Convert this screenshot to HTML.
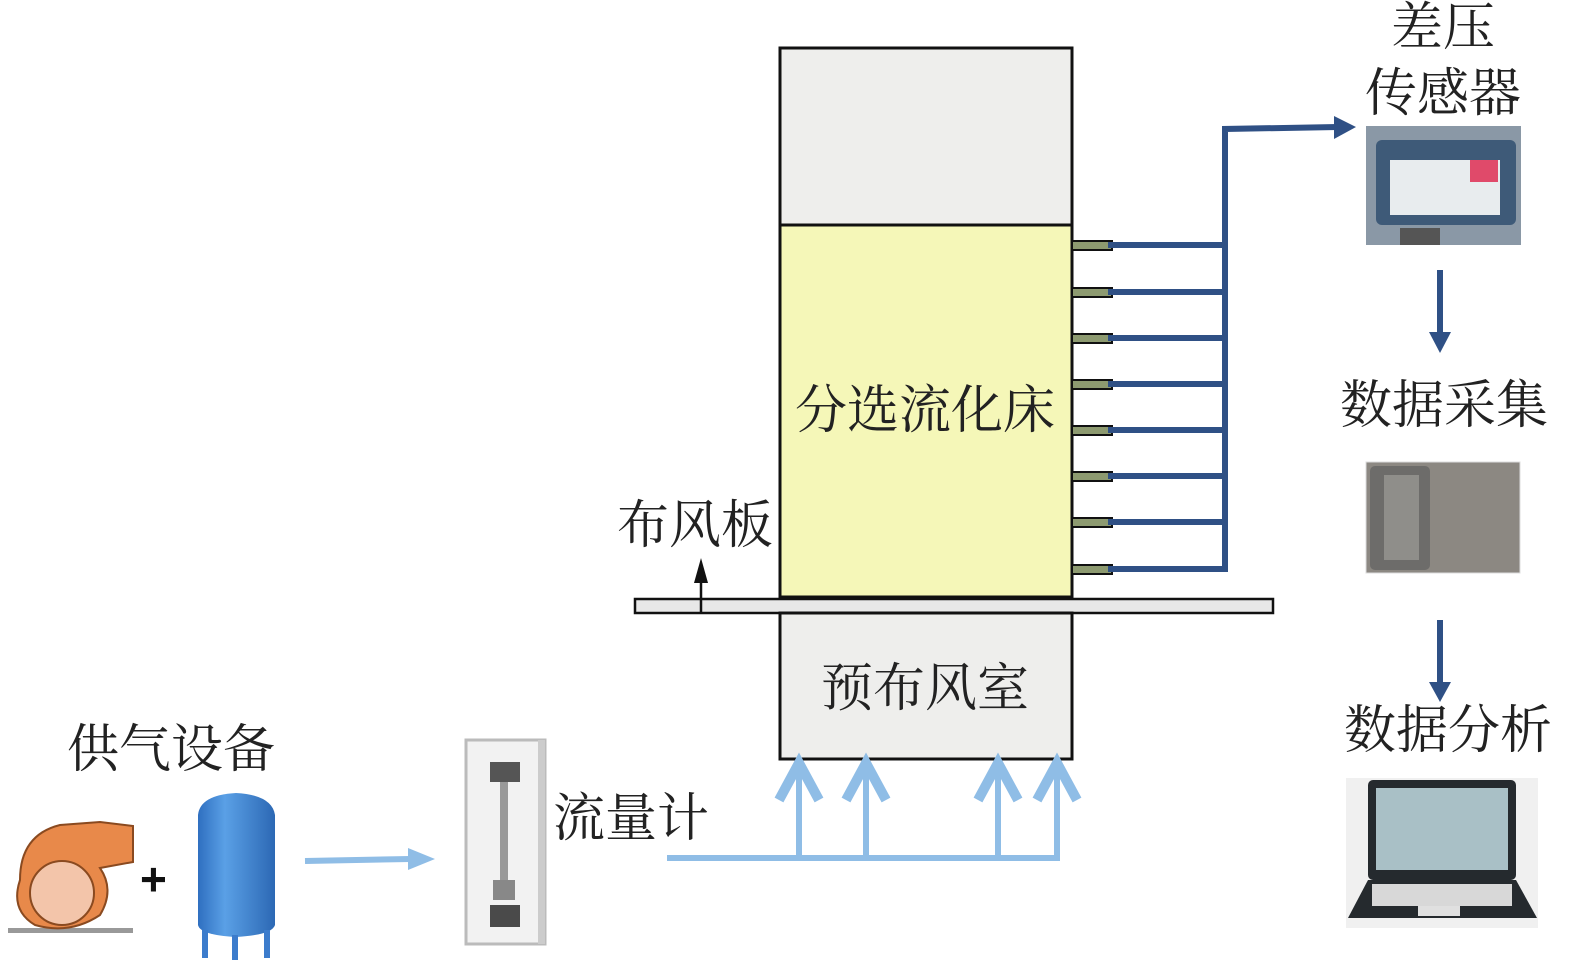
<!DOCTYPE html>
<html><head><meta charset="utf-8"><style>
html,body{margin:0;padding:0;background:#fff;}
svg{display:block;}
text{font-family:"Liberation Serif","Noto Serif CJK SC",serif;font-size:52px;fill:#222;}
</style></head><body>
<svg width="1575" height="964" viewBox="0 0 1575 964" xmlns="http://www.w3.org/2000/svg">
<defs>
<linearGradient id="tank" x1="0" x2="1"><stop offset="0" stop-color="#2f6fc0"/><stop offset="0.35" stop-color="#5aa0e6"/><stop offset="1" stop-color="#2c68b4"/></linearGradient>
</defs>
<!-- column -->
<rect x="780" y="48" width="292" height="177" fill="#eeeeec" stroke="#111" stroke-width="3"/>
<rect x="780" y="225" width="292" height="372" fill="#f5f7b8" stroke="#111" stroke-width="3"/>
<rect x="635" y="599" width="638" height="14" fill="#e8e8e8" stroke="#111" stroke-width="2.5"/>
<rect x="780" y="613" width="292" height="146" fill="#eeeeec" stroke="#111" stroke-width="3"/>
<!-- taps -->
<g>
<rect x="1072" y="241" width="40" height="9" fill="#8d9a70" stroke="#111" stroke-width="2"/>
<rect x="1072" y="288" width="40" height="9" fill="#8d9a70" stroke="#111" stroke-width="2"/>
<rect x="1072" y="334" width="40" height="9" fill="#8d9a70" stroke="#111" stroke-width="2"/>
<rect x="1072" y="380" width="40" height="9" fill="#8d9a70" stroke="#111" stroke-width="2"/>
<rect x="1072" y="426" width="40" height="9" fill="#8d9a70" stroke="#111" stroke-width="2"/>
<rect x="1072" y="472" width="40" height="9" fill="#8d9a70" stroke="#111" stroke-width="2"/>
<rect x="1072" y="518" width="40" height="9" fill="#8d9a70" stroke="#111" stroke-width="2"/>
<rect x="1072" y="565" width="40" height="9" fill="#8d9a70" stroke="#111" stroke-width="2"/>
</g>
<g stroke="#2f5085" stroke-width="6" fill="none">
<line x1="1108" y1="245" x2="1225" y2="245"/>
<line x1="1108" y1="292" x2="1225" y2="292"/>
<line x1="1108" y1="338" x2="1225" y2="338"/>
<line x1="1108" y1="384" x2="1225" y2="384"/>
<line x1="1108" y1="430" x2="1225" y2="430"/>
<line x1="1108" y1="476" x2="1225" y2="476"/>
<line x1="1108" y1="522" x2="1225" y2="522"/>
<line x1="1108" y1="569" x2="1225" y2="569"/>
<polyline points="1225,572 1225,129 1338,127"/>
<line x1="1440" y1="270" x2="1440" y2="335"/>
<line x1="1440" y1="620" x2="1440" y2="684"/>
</g>
<polygon points="1334,116 1356,127 1334,139" fill="#2f5085"/>
<polygon points="1429,332 1451,332 1440,353" fill="#2f5085"/>
<polygon points="1429,682 1451,682 1440,702" fill="#2f5085"/>
<!-- sensor photo -->
<rect x="1366" y="126" width="155" height="119" fill="#8a98a6"/>
<rect x="1376" y="140" width="140" height="85" rx="6" fill="#3e5a78"/>
<rect x="1390" y="160" width="110" height="55" fill="#e8ecee"/>
<rect x="1470" y="160" width="28" height="22" fill="#e04a6a"/>
<rect x="1400" y="228" width="40" height="17" fill="#555"/>
<!-- DAQ photo -->
<rect x="1366" y="462" width="154" height="111" fill="#8c8882" stroke="#ddd"/>
<rect x="1370" y="466" width="60" height="104" rx="5" fill="#6d6c6a"/>
<rect x="1384" y="475" width="35" height="85" fill="#8f8e8a"/>
<!-- laptop -->
<rect x="1346" y="778" width="192" height="150" fill="#f0f0f0"/>
<rect x="1368" y="780" width="148" height="100" rx="5" fill="#252a2e"/>
<rect x="1376" y="788" width="132" height="82" fill="#a9c0c6"/>
<polygon points="1368,880 1516,880 1537,918 1348,918" fill="#252a2e"/>
<rect x="1372" y="884" width="140" height="22" fill="#d8d8d8"/>
<rect x="1418" y="906" width="42" height="10" fill="#e0e0e0"/>
<!-- airflow -->
<g stroke="#8fbde6" stroke-width="6" fill="none" stroke-linecap="butt">
<line x1="667" y1="858" x2="1060" y2="858"/>
<line x1="799" y1="861" x2="799" y2="763"/>
<line x1="866" y1="861" x2="866" y2="763"/>
<line x1="998" y1="861" x2="998" y2="763"/>
<line x1="1057" y1="861" x2="1057" y2="763"/>
<polyline points="779,800 799,763 819,800" stroke-width="10"/>
<polyline points="846,800 866,763 886,800" stroke-width="10"/>
<polyline points="978,800 998,763 1018,800" stroke-width="10"/>
<polyline points="1037,800 1057,763 1077,800" stroke-width="10"/>
<line x1="305" y1="861" x2="410" y2="859"/>
</g>
<polygon points="408,848 435,859 408,870" fill="#8fbde6"/>
<!-- up arrow black -->
<line x1="701" y1="612" x2="701" y2="580" stroke="#111" stroke-width="2.5"/>
<polygon points="694,583 708,583 701,558" fill="#111"/>
<!-- blower -->
<rect x="8" y="928" width="125" height="5" fill="#999"/>
<path d="M20,880 Q20,835 60,825 L100,822 L133,826 L133,862 L100,868 Q115,890 100,915 Q70,935 35,925 Q10,910 20,880Z" fill="#e8894a" stroke="#8a4a20" stroke-width="2"/>
<circle cx="62" cy="893" r="32" fill="#f3c5aa" stroke="#8a4a20" stroke-width="2"/>
<text x="140" y="895" style="font-family:'Liberation Sans',sans-serif;font-size:46px;font-weight:bold;fill:#111">+</text>
<!-- tank -->
<path d="M198,815 Q200,795 236,793 Q272,795 275,815 L275,925 Q272,935 236,937 Q200,935 198,925Z" fill="url(#tank)"/>
<rect x="202" y="930" width="6" height="28" fill="#3c7ccc"/>
<rect x="232" y="935" width="6" height="25" fill="#3c7ccc"/>
<rect x="264" y="930" width="6" height="28" fill="#3c7ccc"/>
<!-- flowmeter -->
<rect x="466" y="740" width="79" height="204" fill="#f2f2f2" stroke="#bbb" stroke-width="3"/>
<rect x="538" y="740" width="7" height="204" fill="#ccc"/>
<rect x="490" y="762" width="30" height="20" fill="#555"/>
<rect x="500" y="782" width="8" height="105" fill="#999"/>
<rect x="493" y="880" width="22" height="20" fill="#888"/>
<rect x="490" y="905" width="30" height="22" fill="#4a4a4a"/>
<!-- labels -->
<text x="1443" y="45" text-anchor="middle">差压</text>
<text x="1443" y="111" text-anchor="middle">传感器</text>
<text x="925" y="428" text-anchor="middle">分选流化床</text>
<text x="695" y="543" text-anchor="middle">布风板</text>
<text x="925" y="706" text-anchor="middle">预布风室</text>
<text x="171" y="767" text-anchor="middle">供气设备</text>
<text x="631" y="836" text-anchor="middle">流量计</text>
<text x="1444" y="423" text-anchor="middle">数据采集</text>
<text x="1448" y="748" text-anchor="middle">数据分析</text>
</svg>
</body></html>
